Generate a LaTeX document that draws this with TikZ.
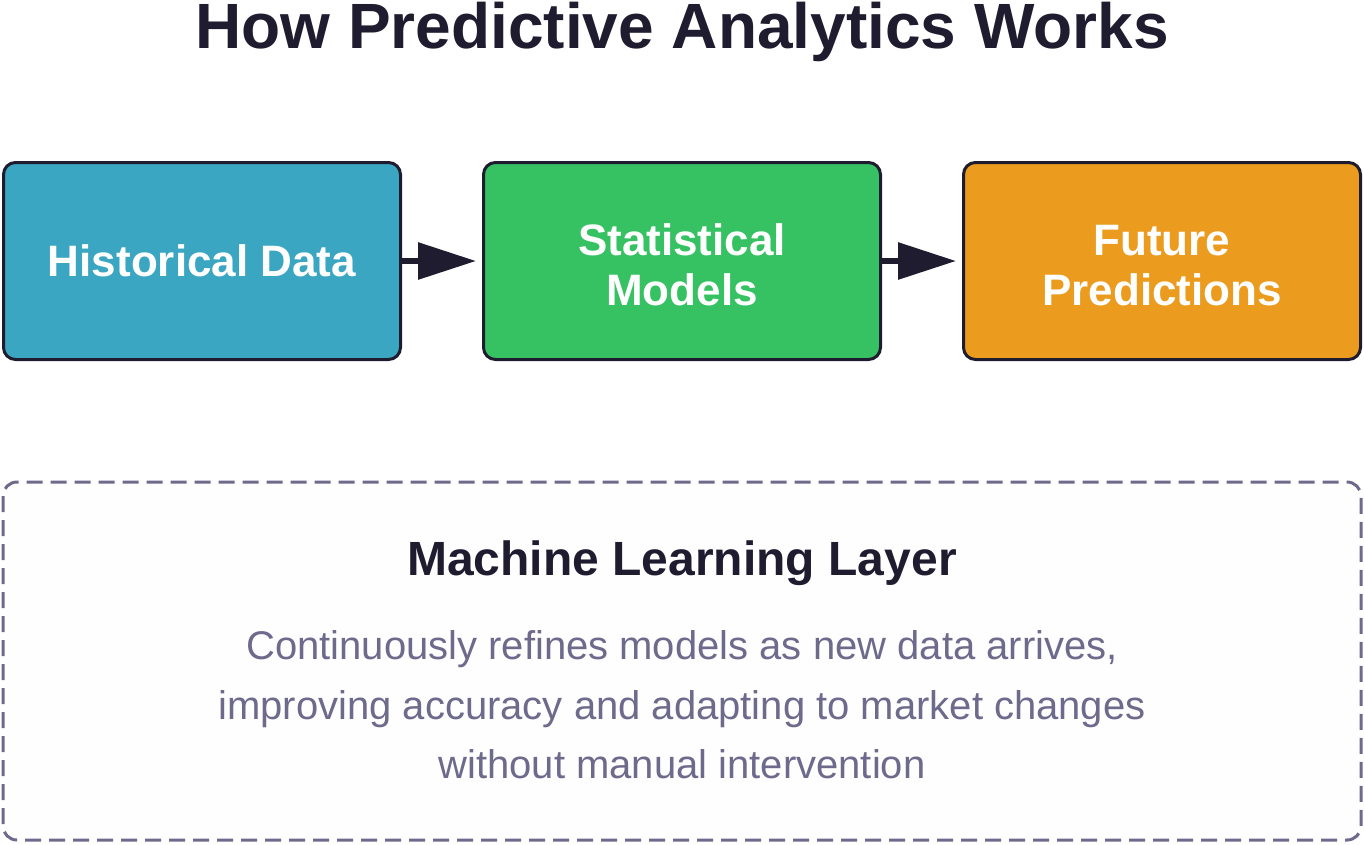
\documentclass[tikz,border=0pt]{standalone}
\usepackage{fontspec}
\setmainfont{Liberation Sans}
\usetikzlibrary{arrows.meta}

\definecolor{inkdark}{HTML}{1E1C2E}
\definecolor{inkgray}{HTML}{6E6A8C}
\definecolor{histblue}{HTML}{3AA6C2}
\definecolor{statgreen}{HTML}{36C263}
\definecolor{futorange}{HTML}{EB9C1F}
\definecolor{layerfill}{HTML}{FEFEFF}

\tikzset{
	stagebox/.style={draw=inkdark, line width=3pt, rounded corners=12pt,
		minimum width=397pt, minimum height=197pt, align=center, text=white,
		font=\fontsize{44}{50}\selectfont\bfseries},
	flowarrow/.style={draw=inkdark, line width=6pt,
		-{Triangle[length=58pt,width=36pt]}, shorten >=6pt}
}
\newcommand{\toppad}{\rule{0pt}{40pt}}

\begin{document}
\begin{tikzpicture}[x=1pt,y=-1pt]
		\useasboundingbox (0,0) rectangle (1364,844);
		\node[anchor=base, inner sep=0pt, text=inkdark, font=\fontsize{64}{70}\selectfont\bfseries] (title) at (682,48) {How Predictive Analytics Works};

		\node[stagebox, fill=histblue] (hist) at (202,261) {Historical Data};
		\node[stagebox, fill=statgreen] (stat) at (682,261) {\toppad Statistical\\Models};
		\node[stagebox, fill=futorange] (fut) at (1162,261) {\toppad Future\\Predictions};
		\draw[flowarrow] (hist) -- (stat);
		\draw[flowarrow] (stat) -- (fut);

		\draw[draw=inkgray, fill=layerfill, line width=3pt, dash pattern=on 16pt off 8pt, rounded corners=14pt] (3,482) rectangle (1361,840);
		\node[anchor=base, text=inkdark, font=\fontsize{48}{54}\selectfont\bfseries] (mltitle) at (682,575) {Machine Learning Layer};
		\foreach \y/\t in {659/{Continuously refines models as new data arrives,}, 719/{improving accuracy and adapting to market changes}, 778/{without manual intervention}}{
			\node[anchor=base, text=inkgray, font=\fontsize{40}{60}\selectfont] at (682,\y) {\t};
		}
\end{tikzpicture}
\end{document}
